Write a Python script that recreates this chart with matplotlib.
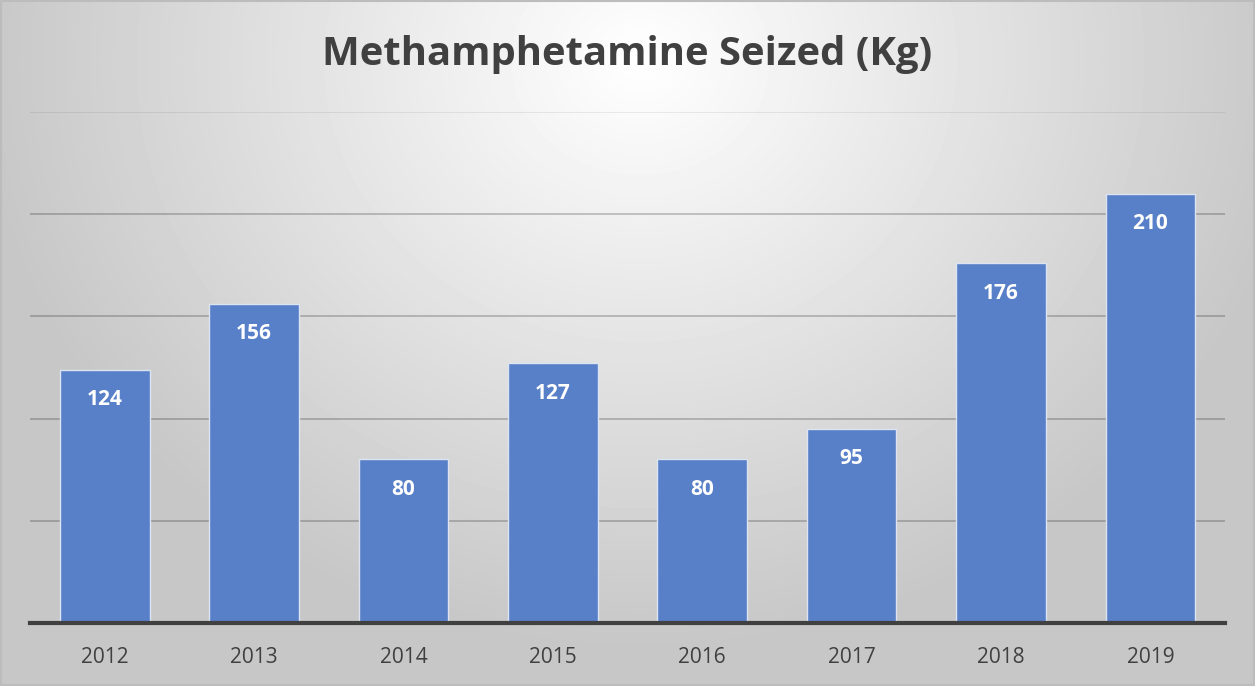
import numpy as np
import matplotlib
matplotlib.use("Agg")
import matplotlib.pyplot as plt

# ── Data ───────────────────────────────────────────────────────────────────────
years = ["2012", "2013", "2014", "2015", "2016", "2017", "2018", "2019"]
seized_kg = [124, 156, 80, 127, 80, 95, 176, 210]

BAR_COLOR = "#5880C8"
TEXT_COLOR = "#404040"

fig = plt.figure(figsize=(12.55, 6.86), dpi=100)

# ── Radial gradient background ────────────────────────────────────────────────
bg = fig.add_axes([0, 0, 1, 1], zorder=0)
h, w = 686, 1255
yy, xx = np.mgrid[0:h, 0:w]
r = np.sqrt(((xx - 640) / 900.0) ** 2 + ((yy - 60) / 800.0) ** 2)
shade = np.clip(1.0 - 0.30 * r, 0.78, 1.0)
bg.imshow(shade, cmap="gray", vmin=0, vmax=1, aspect="auto", extent=[0, 1, 0, 1])
bg.set_xlim(0, 1); bg.set_ylim(0, 1)
bg.axis("off")
bg.add_patch(plt.Rectangle((0.0005, 0.001), 0.999, 0.998, fill=False,
                           edgecolor="#bcbcbc", linewidth=1.5))

# ── Chart ─────────────────────────────────────────────────────────────────────
ax = fig.add_axes([30 / 1255, 1 - 623 / 686, 1195 / 1255, 511 / 686], zorder=1)
ax.patch.set_alpha(0)

x = np.arange(len(years))
bars = ax.bar(x, seized_kg, width=0.6, color=BAR_COLOR, edgecolor="#dce4f2",
              linewidth=1.0, zorder=2)

for xi, v in zip(x, seized_kg):
    ax.annotate(f"{v}", (xi, v), xytext=(0, -21.5), textcoords="offset points",
                ha="center", va="center", color="white", fontsize=15,
                fontweight="bold", family="Open Sans", zorder=3)

ax.set_xlim(-0.5, len(years) - 0.5)
ax.set_ylim(0, 250)
ax.set_yticks([50, 100, 150, 200, 250])
ax.yaxis.grid(True, color="black", alpha=0.22, linewidth=1.3, zorder=1)
ax.get_ygridlines()[-1].set_alpha(0.08)
ax.set_axisbelow(True)
ax.tick_params(axis="y", left=False, labelleft=False)
ax.tick_params(axis="x", bottom=False, pad=14, labelsize=15, labelcolor=TEXT_COLOR)
ax.set_xticks(x)
ax.set_xticklabels(years, family="Open Sans")

for s in ["top", "right", "left"]:
    ax.spines[s].set_visible(False)
ax.spines["bottom"].set_color(TEXT_COLOR)
ax.spines["bottom"].set_linewidth(3)
ax.spines["bottom"].set_zorder(4)

fig.text(0.5, 1 - 55 / 686, "Methamphetamine Seized (Kg)", ha="center", va="center",
         fontsize=28.8, fontweight="bold", color=TEXT_COLOR, family="Open Sans")

fig.savefig("out.png", dpi=100)
